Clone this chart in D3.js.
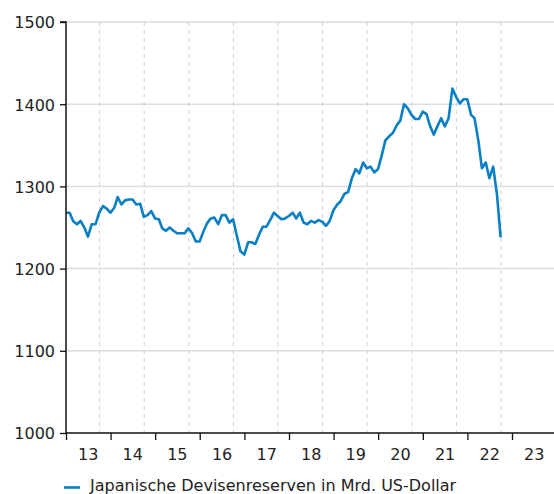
<!DOCTYPE html>
<html><head><meta charset="utf-8">
<script src="https://cdn.jsdelivr.net/npm/d3@7"></script>
<style>
html,body{margin:0;padding:0;background:#fff;}
svg{display:block;font-family:"DejaVu Sans",sans-serif;}
</style></head>
<body>
<svg id="chart" width="554" height="494"></svg>
<script>
// Monthly values (month-end), Dec 2012 .. Sep 2022, bn USD
const startYear = 2012, startMonth = 11; // December 2012
const reserves = [
1268,1268,1258,1254,1258,1250,1239,1254,1254,1268,1276,1273,
1268,1274,1287,1278,1283,1284,1284,1278,1279,1263,1265,1270,
1261,1260,1249,1246,1250,1246,1243,1243,1243,1249,1243,1233,
1233,1245,1255,1261,1262,1254,1265,1265,1256,1260,1240,1221,
1217,1232,1232,1230,1241,1251,1251,1259,1268,1264,1260,1261,
1264,1268,1261,1268,1256,1254,1258,1256,1259,1257,1252,1258,
1271,1278,1282,1291,1293,1310,1321,1316,1329,1322,1324,1317,
1321,1338,1356,1361,1365,1374,1380,1400,1395,1387,1382,1382,
1391,1388,1374,1363,1373,1383,1373,1383,1419,1409,1401,1406,
1406,1387,1383,1356,1322,1329,1310,1324,1290,1238
];
const yearLabels = ["13","14","15","16","17","18","19","20","21","22","23"];
const yTicks = [1000,1100,1200,1300,1400,1500];
const legendLabel = "Japanische Devisenreserven in Mrd. US-Dollar";

(function(){
const data = reserves.map((v,i)=>({date:new Date(startYear, startMonth+i+1, 0), value:v}));

const svg = d3.select("#chart");
const mLeft = 66, mTop = 22, mBottom = 433, mRight = 554;
const x = d3.scaleTime()
  .domain([new Date(2013,0,1), new Date(2023,0,1)])
  .range([mLeft, 512]);
const y = d3.scaleLinear().domain([1000,1500]).range([mBottom, mTop]);

// horizontal grid
svg.append("g").selectAll("line").data(yTicks.filter(d=>d>1000)).join("line")
  .attr("x1", mLeft).attr("x2", mRight)
  .attr("y1", d=>y(d)).attr("y2", d=>y(d))
  .attr("stroke", "#d7dde3").attr("stroke-width", 1.5);

// dashed vertical grid
const dashDates = d3.range(2013, 2023).map(yy=>new Date(yy, 9, 3));
svg.append("g").selectAll("line").data(dashDates).join("line")
  .attr("x1", d=>x(d)).attr("x2", d=>x(d))
  .attr("y1", mTop).attr("y2", mBottom)
  .attr("stroke", "#cdd2d8").attr("stroke-width", 1)
  .attr("stroke-dasharray", "4,4");

// line
const line = d3.line().x(d=>x(d.date)).y(d=>y(d.value));
svg.append("path").datum(data)
  .attr("d", line).attr("fill","none")
  .attr("stroke", "#0a7fc4").attr("stroke-width", 2.6)
  .attr("stroke-linejoin","round");

// y axis
const yAxis = d3.axisLeft(y).tickValues(yTicks).tickSize(6).tickPadding(5).tickFormat(d3.format("d"));
const gy = svg.append("g").attr("transform", `translate(${mLeft},0)`).call(yAxis);
gy.select(".domain").attr("stroke","#111").attr("stroke-width",1.5).attr("d", `M-6,${mTop}H0V${mBottom}`);
gy.selectAll(".tick line").attr("stroke","#111").attr("stroke-width",1.3);
gy.selectAll(".tick text").attr("font-size",16).attr("fill","#222")
  .attr("font-family","'DejaVu Sans',sans-serif").attr("dy","0.37em");

// x axis
const xTickDates = d3.range(2013, 2025).map(yy=>new Date(yy,0,1));
const xAxis = d3.axisBottom(x).tickValues(xTickDates).tickSize(7).tickFormat("");
const gx = svg.append("g").attr("transform", `translate(0,${mBottom})`).call(xAxis);
gx.select(".domain").attr("stroke","#111").attr("stroke-width",1.5).attr("d", `M${mLeft},0H${mRight}`);
gx.selectAll(".tick line").attr("stroke","#111").attr("stroke-width",1.3);
svg.append("g").selectAll("text").data(yearLabels).join("text")
  .attr("x", (d,i)=>x(new Date(2013+i,6,2)))
  .attr("y", 460)
  .attr("text-anchor","middle")
  .attr("font-size",16).attr("fill","#222")
  .text(d=>d);

// legend
svg.append("line").attr("x1",64).attr("x2",80).attr("y1",487.5).attr("y2",487.5)
  .attr("stroke","#0a7fc4").attr("stroke-width",2.6);
svg.append("text").attr("x",90).attr("y",491).attr("font-size",16).attr("fill","#222")
  .text(legendLabel);
})();
</script>
</body></html>
